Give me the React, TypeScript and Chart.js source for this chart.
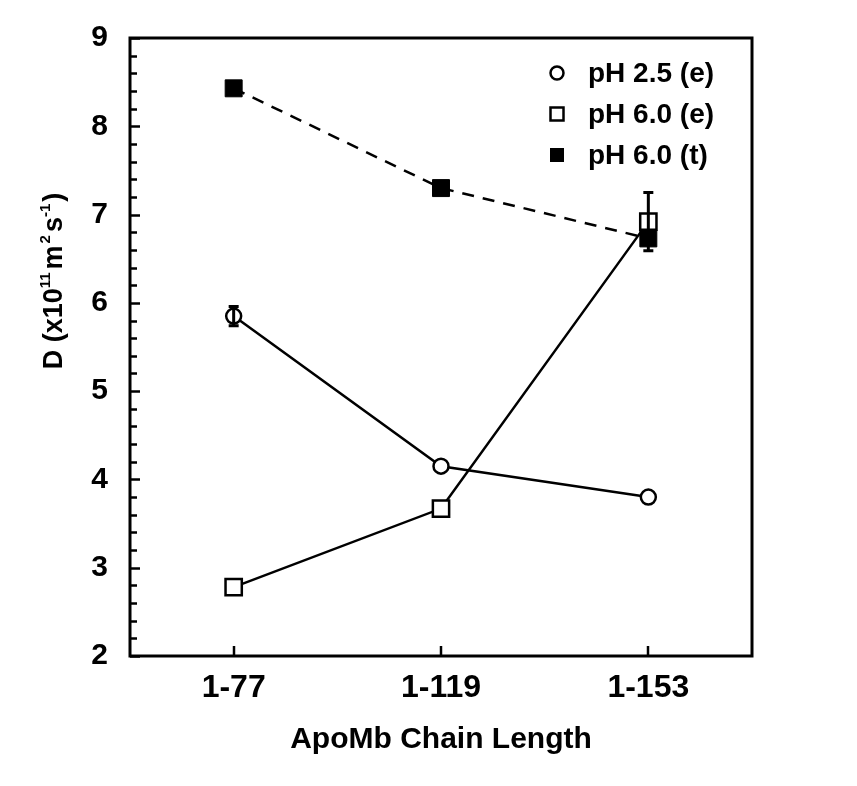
import React, { useEffect, useRef } from 'react';
import { Chart, registerables } from 'chart.js';

Chart.register(...registerables);

const categories = ['1-77', '1-119', '1-153'];
const ph25e = [5.85, 4.15, 3.8];
const ph25eErr = [0.11, 0, 0];
const ph60e = [2.78, 3.67, 6.92];
const ph60eErr = [0, 0, 0.33];
const ph60t = [8.43, 7.3, 6.73];
const seriesNames = ['pH 2.5 (e)', 'pH 6.0 (e)', 'pH 6.0 (t)'];
const yMin = 2;
const yMax = 9;
const yStep = 1;
const yMinorStep = 0.2;
const xTitle = 'ApoMb Chain Length';

const FONT = '"Liberation Sans", Arial, Helvetica, sans-serif';

const framePlugin = {
  id: 'frame',
  beforeDatasetsDraw(chart: any) {
    const { ctx, chartArea: a, scales } = chart;
    ctx.save();
    ctx.strokeStyle = '#000';
    ctx.lineWidth = 3;
    ctx.strokeRect(a.left, a.top, a.right - a.left, a.bottom - a.top);
    const y = scales.y;
    const n = Math.round((yMax - yMin) / yMinorStep);
    ctx.lineWidth = 2.5;
    for (let i = 0; i <= n; i++) {
      const v = yMin + i * yMinorStep;
      const py = Math.round(y.getPixelForValue(v)) + 0.5;
      const major = Math.abs(v - Math.round(v)) < 1e-6;
      const len = major ? 10 : 7;
      ctx.beginPath();
      ctx.moveTo(a.left, py);
      ctx.lineTo(a.left + len, py);
      ctx.stroke();
    }
    const x = scales.x;
    categories.forEach((_, i) => {
      const px = Math.round(x.getPixelForValue(i));
      ctx.beginPath();
      ctx.moveTo(px, a.bottom);
      ctx.lineTo(px, a.bottom - 10);
      ctx.stroke();
    });
    ctx.restore();
  },
  afterDatasetsDraw(chart: any) {
    const { ctx, scales } = chart;
    ctx.save();
    ctx.strokeStyle = '#000';
    ctx.lineWidth = 3;
    chart.data.datasets.forEach((ds: any, di: number) => {
      if (!ds.errors) return;
      const meta = chart.getDatasetMeta(di);
      ds.errors.forEach((e: number, j: number) => {
        if (!e) return;
        const v = ds.data[j];
        const px = meta.data[j].x;
        const t = scales.y.getPixelForValue(v + e);
        const b = scales.y.getPixelForValue(v - e);
        ctx.beginPath();
        ctx.moveTo(px, t);
        ctx.lineTo(px, b);
        ctx.moveTo(px - 5, t);
        ctx.lineTo(px + 5, t);
        ctx.moveTo(px - 5, b);
        ctx.lineTo(px + 5, b);
        ctx.stroke();
      });
    });
    ctx.restore();
  },
  afterDraw(chart: any) {
    const { ctx, chartArea: a } = chart;
    ctx.save();
    // legend
    const mx = a.right - 195;
    const tx = a.right - 164;
    const y0 = a.top + 35;
    const gap = 41;
    ctx.font = `bold 28px ${FONT}`;
    ctx.textBaseline = 'middle';
    ctx.textAlign = 'left';
    ctx.fillStyle = '#000';
    ctx.strokeStyle = '#000';
    ctx.lineWidth = 2.5;
    chart.data.datasets.forEach((ds: any, i: number) => {
      const cy = y0 + i * gap;
      if (ds.pointStyle === 'circle') {
        ctx.beginPath();
        ctx.arc(mx, cy, 6.5, 0, Math.PI * 2);
        ctx.stroke();
      } else if (ds.pointBackgroundColor === '#000') {
        ctx.fillRect(mx - 7, cy - 7, 14, 14);
      } else {
        ctx.strokeRect(mx - 6.5, cy - 6.5, 13, 13);
      }
      ctx.fillText(ds.label, tx, cy + 1);
    });
    // y title with superscripts
    const segs: [string, number, number, number][] = [
      ['D (x10', 27, 0, 0],
      ['11', 15, -12, 3],
      ['m', 27, 0, 2],
      ['2', 15, -12, 3],
      ['s', 27, 0, 0],
      ['-1', 15, -12, 2],
      [')', 27, 0, 0],
    ];
    let total = 0;
    const widths = segs.map(([s, f, , g]) => {
      ctx.font = `bold ${f}px ${FONT}`;
      const w = ctx.measureText(s).width + g;
      total += w;
      return w;
    });
    ctx.translate(62, (a.top + a.bottom) / 2 - 66);
    ctx.rotate(-Math.PI / 2);
    ctx.textBaseline = 'alphabetic';
    let cx = -total / 2;
    segs.forEach(([s, f, dy], i) => {
      ctx.font = `bold ${f}px ${FONT}`;
      ctx.fillText(s, cx, dy);
      cx += widths[i];
    });
    ctx.restore();
  },
};

export default function App() {
  const ref = useRef<HTMLCanvasElement>(null);
  useEffect(() => {
    if (!ref.current) return;
    const chart = new Chart(ref.current, {
      type: 'line',
      data: {
        labels: categories,
        datasets: [
          {
            label: seriesNames[0],
            data: ph25e,
            errors: ph25eErr,
            borderColor: '#000',
            borderWidth: 2.5,
            pointStyle: 'circle',
            pointRadius: 7.5,
            pointBorderWidth: 2.5,
            pointBorderColor: '#000',
            pointBackgroundColor: '#fff',
            tension: 0,
            order: 2,
          },
          {
            label: seriesNames[1],
            data: ph60e,
            errors: ph60eErr,
            borderColor: '#000',
            borderWidth: 2.5,
            pointStyle: 'rect',
            pointRadius: 11.5,
            pointBorderWidth: 2.5,
            pointBorderColor: '#000',
            pointBackgroundColor: '#fff',
            tension: 0,
            order: 1,
          },
          {
            label: seriesNames[2],
            data: ph60t,
            borderColor: '#000',
            borderWidth: 2.5,
            borderDash: [12, 9],
            pointStyle: 'rect',
            pointRadius: 12,
            pointBorderWidth: 1,
            pointBorderColor: '#000',
            pointBackgroundColor: '#000',
            tension: 0,
            order: 0,
          },
        ] as any,
      },
      options: {
        responsive: false,
        animation: false,
        devicePixelRatio: 1,
        layout: { padding: { top: 38, right: 105, left: 0, bottom: 0 } },
        plugins: { legend: { display: false }, tooltip: { enabled: false } },
        scales: {
          x: {
            type: 'category',
            offset: true,
            grid: { display: false, drawTicks: false },
            border: { display: false },
            ticks: {
              color: '#000',
              padding: 13,
              font: { family: FONT, size: 32, weight: 'bold' },
            },
            title: {
              display: true,
              text: xTitle,
              color: '#000',
              padding: { top: 0, bottom: 28 },
              font: { family: FONT, size: 30, weight: 'bold' },
            },
            afterFit(s: any) {
              s.height = 130;
            },
          },
          y: {
            min: yMin,
            max: yMax,
            grid: { display: false, drawTicks: false },
            border: { display: false },
            ticks: {
              stepSize: yStep,
              color: '#000',
              padding: 22,
              font: { family: FONT, size: 30, weight: 'bold', lineHeight: 1 },
            },
            afterFit(s: any) {
              s.width = 130;
            },
          },
        },
      } as any,
      plugins: [framePlugin],
    });
    return () => chart.destroy();
  }, []);
  return (
    <div style={{ position: 'fixed', left: 0, top: 0, width: 857, height: 786, background: '#fff' }}>
      <canvas ref={ref} width={857} height={786} style={{ width: 857, height: 786, display: 'block' }} />
    </div>
  );
}
